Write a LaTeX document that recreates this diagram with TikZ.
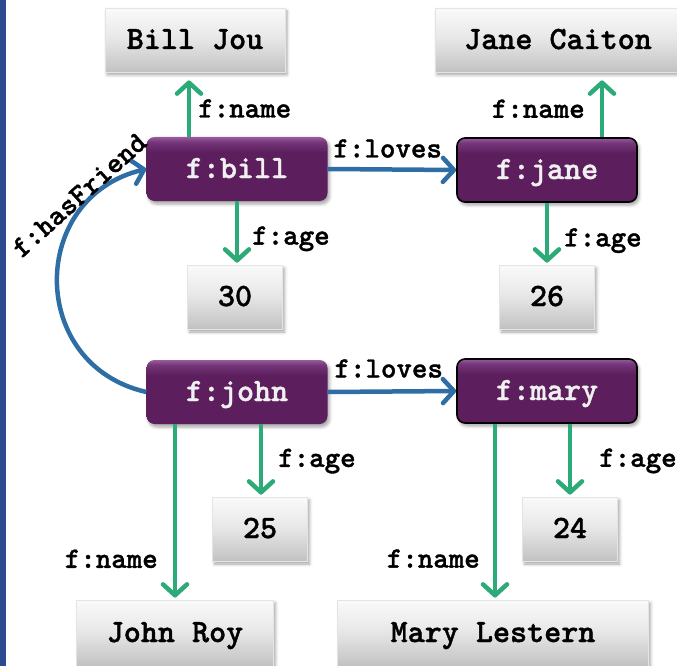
\documentclass[tikz,border=0pt]{standalone}
\usepackage{fontspec}
\newfontfamily\cour[Extension=.otf, FakeBold=1.2]{lmmonolt10-bold}
\usetikzlibrary{arrows.meta,shadows.blur}

\definecolor{barblue}{HTML}{2C4A90}
\definecolor{propgreen}{HTML}{2CAA78}
\definecolor{linkblue}{HTML}{2E6EA5}
\definecolor{valtop}{HTML}{FAFAFA}
\definecolor{valmid}{HTML}{E8E8E8}
\definecolor{valbot}{HTML}{C2C2C2}
\definecolor{valedge}{HTML}{E4E4E4}
\definecolor{resdark}{HTML}{5C1E5C}
\definecolor{resmid}{HTML}{74367A}
\definecolor{reslight}{HTML}{9A5A9C}

% literal boxes: white top fading to grey at the bottom
\pgfdeclareverticalshading{valshade}{100bp}{color(0bp)=(valbot); color(25bp)=(valbot); color(52bp)=(valmid); color(75bp)=(valtop); color(100bp)=(valtop)}
% resource boxes: dark purple with a light band along the top
\pgfdeclareverticalshading{resshade}{100bp}{color(0bp)=(resdark); color(63bp)=(resdark); color(71bp)=(resmid); color(75bp)=(reslight); color(100bp)=(reslight)}

\tikzset{
  x=1pt, y=1pt,
  boxfont/.style={font=\cour\fontsize{32.5}{34}\selectfont},
  lbl/.style={font=\cour\fontsize{29.5}{31}\selectfont, inner sep=0pt, text=black},
  softshadow/.style={blur shadow={shadow xshift=2pt, shadow yshift=-3pt, shadow blur radius=3pt, shadow opacity=35}},
  valbox/.style={boxfont, shade, shading=valshade, draw=valedge, line width=0.8pt,
    minimum height=64pt, inner sep=0pt, text height=20pt, text depth=2pt, softshadow},
  resbox/.style={boxfont, shade, shading=resshade, rounded corners=8pt,
    minimum width=181pt, minimum height=64pt, inner sep=0pt, text height=20pt, text depth=2pt,
    text=white!94!black, softshadow},
  resedge/.style={draw=black, line width=1.6pt},
  relarrow/.style={line width=4.5pt, -{Straight Barb[length=11pt,width=24pt,round]}},
  proparrow/.style={relarrow, draw=propgreen},
  linkarrow/.style={relarrow, draw=linkblue},
}

\begin{document}
\begin{tikzpicture}
\useasboundingbox (0,0) rectangle (677,-666);
\fill[barblue] (0,0) rectangle (6,-666);

% literal values
\node[valbox, minimum width=180pt] (billjou) at (195,-40) {Bill Jou};
\node[valbox, minimum width=246pt] (janecaiton) at (558,-40) {Jane Caiton};
\node[valbox, minimum width=95pt] (n30) at (235,-297) {30};
\node[valbox, minimum width=95pt] (n26) at (547,-297) {26};
\node[valbox, minimum width=95pt] (n25) at (260,-529) {25};
\node[valbox, minimum width=95pt] (n24) at (570,-529) {24};
\node[valbox, minimum width=197pt, minimum height=66pt] (johnroy) at (175,-633) {John Roy};
\node[valbox, minimum width=311pt, minimum height=66pt] (marylestern) at (493,-633) {Mary Lestern};

% resources
\node[resbox] (bill) at (237,-169) {f:bill};
\node[resbox, resedge, minimum width=180pt] (jane) at (547,-170) {f:jane};
\node[resbox] (john) at (237,-392) {f:john};
\node[resbox, resedge, minimum width=180pt] (mary) at (547,-391) {f:mary};

% properties of f:bill
\draw[proparrow, shorten >=8pt] ([xshift=-48pt]bill.north) -- ([xshift=-6pt]billjou.south)
  node[lbl, pos=0.3, anchor=base west, xshift=7pt] (lbname) {f:name};
\draw[proparrow, shorten >=2pt] (bill.south) -- (bill.south |- n30.north)
  node[lbl, pos=0.685, anchor=base west, xshift=13pt] (lbage) {f:age};
\draw[linkarrow] (bill.east) -- (jane.west)
  node[lbl, pos=0.467, anchor=base, yshift=12pt] (lbloves) {f:loves};

% properties of f:jane
\draw[proparrow, shorten >=8pt] ([xshift=55pt]jane.north) -- ([xshift=44pt]janecaiton.south)
  node[lbl, pos=0.3, anchor=base east, xshift=-15pt] (ljname) {f:name};
\draw[proparrow, shorten >=2pt] (jane.south) -- (jane.south |- n26.north)
  node[lbl, pos=0.706, anchor=base west, xshift=15pt] (ljage) {f:age};

% properties of f:john
\draw[linkarrow] (john.east) -- (mary.west)
  node[lbl, pos=0.475, anchor=base, yshift=14pt] (lnloves) {f:loves};
\draw[proparrow, shorten >=2pt] ([xshift=24pt]john.south) -- ([xshift=24pt]john.south |- n25.north)
  node[lbl, pos=0.59, anchor=base west, xshift=15pt] (lnage) {f:age};
\draw[proparrow, shorten >=2pt] ([xshift=-62pt]john.south) -- ([xshift=-62pt]john.south |- johnroy.north)
  node[lbl, pos=0.819, anchor=base east, xshift=-15pt] (lnname) {f:name};
\draw[linkarrow] (john.west) .. controls +(-119,27) and +(-118,-28) .. (bill.west);
\node[lbl, rotate=42] (lhasfriend) at (79,-195) {f:hasFriend};

% properties of f:mary
\draw[proparrow, shorten >=2pt] ([xshift=23pt]mary.south) -- ([xshift=23pt]mary.south |- n24.north)
  node[lbl, pos=0.59, anchor=base west, xshift=27pt] (lmage) {f:age};
\draw[proparrow, shorten >=2pt] ([xshift=-52pt]mary.south) -- ([xshift=-52pt]mary.south |- marylestern.north)
  node[lbl, pos=0.818, anchor=base east, xshift=-13pt] (lmname) {f:name};
\end{tikzpicture}
\end{document}
